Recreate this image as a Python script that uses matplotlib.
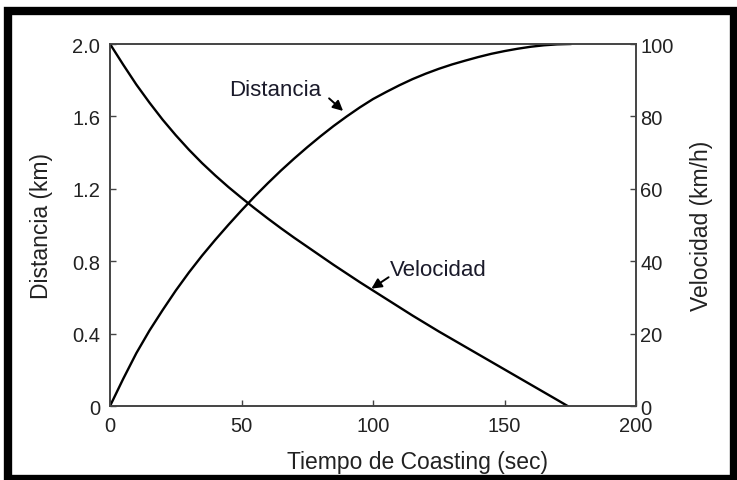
import matplotlib
matplotlib.use('Agg')
import matplotlib.pyplot as plt
from matplotlib.patches import Rectangle

plt.rcParams['font.family'] = ['Liberation Sans', 'DejaVu Sans']

# Datos (cada 5 s)
tiempo_vel = [0, 5, 10, 15, 20, 25, 30, 35, 40, 45, 50, 55, 60, 65, 70, 75, 80, 85, 90,
              95, 100, 105, 110, 115, 120, 125, 130, 135, 140, 145, 150, 155, 160, 165,
              170, 174]
velocidad = [100, 94.3, 88.8, 83.8, 79.1, 74.8, 70.8, 67.1, 63.7, 60.5, 57.5, 54.6, 51.8,
             49.1, 46.5, 44.0, 41.5, 39.0, 36.6, 34.2, 31.9, 29.6, 27.3, 25.0, 22.8, 20.6,
             18.5, 16.4, 14.3, 12.2, 10.1, 8.0, 5.9, 3.8, 1.7, 0]

tiempo_dist = [0, 5, 10, 15, 20, 25, 30, 35, 40, 45, 50, 55, 60, 65, 70, 75, 80, 85, 90,
               95, 100, 105, 110, 115, 120, 125, 130, 135, 140, 145, 150, 155, 160, 165,
               170, 175]
distancia = [0, 0.15, 0.292, 0.417, 0.53, 0.638, 0.738, 0.831, 0.918, 1.001, 1.081, 1.158,
             1.231, 1.301, 1.367, 1.43, 1.49, 1.547, 1.6, 1.65, 1.696, 1.735, 1.772, 1.806,
             1.836, 1.863, 1.887, 1.908, 1.928, 1.946, 1.961, 1.974, 1.985, 1.993, 1.998, 2.0]

x_ticks = [0, 50, 100, 150, 200]
dist_ticks = [0, 0.4, 0.8, 1.2, 1.6, 2.0]
dist_labels = ['0', '0.4', '0.8', '1.2', '1.6', '2.0']
vel_ticks = [0, 20, 40, 60, 80, 100]

fig = plt.figure(figsize=(7.37, 4.81), dpi=100)
ax = fig.add_axes([0.1493, 0.1538, 0.7137, 0.7526])
ax2 = ax.twinx()

ax.plot(tiempo_dist, distancia, color='black', lw=1.7)
ax2.plot(tiempo_vel, velocidad, color='black', lw=1.7)

ax.set_xlim(0, 200)
ax.set_ylim(0, 2.0)
ax2.set_ylim(0, 100)

ax.set_xticks(x_ticks)
ax.set_yticks(dist_ticks)
ax.set_yticklabels(dist_labels)
ax2.set_yticks(vel_ticks)

for a in (ax, ax2):
    for s in a.spines.values():
        s.set_color('#444444')
        s.set_linewidth(1.2)

ax.tick_params(axis='x', direction='in', length=4, width=1, colors='#444444',
               labelcolor='#222222', labelsize=14.5, pad=7, top=False)
ax.tick_params(axis='y', direction='in', length=4, width=1, colors='#444444',
               labelcolor='#222222', labelsize=14.5, pad=7)
ax2.tick_params(axis='y', direction='in', length=4, width=1, colors='#444444',
                labelcolor='#222222', labelsize=14.5, pad=3)

ax.set_xlabel('Tiempo de Coasting (sec)', fontsize=16.5, color='#222222')
ax.xaxis.set_label_coords(0.584, -0.122)
ax.set_ylabel('Distancia (km)', fontsize=16.5, color='#222222', labelpad=14)
ax2.set_ylabel('Velocidad (km/h)', fontsize=16.5, color='#222222', labelpad=12)

# Etiquetas con flechas
ax.text(45.2, 1.746, 'Distancia', fontsize=16, color='#1a1a2a', va='center', ha='left')
ax.annotate('', xy=(89.4, 1.62), xytext=(82.5, 1.71),
            arrowprops=dict(arrowstyle='-|>', color='black', lw=1.4, mutation_scale=15))
ax.text(106.5, 0.757, 'Velocidad', fontsize=16, color='#1a1a2a', va='center', ha='left')
ax.annotate('', xy=(98.5, 0.64), xytext=(106.8, 0.72),
            arrowprops=dict(arrowstyle='-|>', color='black', lw=1.4, mutation_scale=15))

# Marco negro exterior
fig.add_artist(Rectangle((0.0109, 0.002), 0.985, 0.973, transform=fig.transFigure,
                         fill=False, edgecolor='black', lw=6))

fig.savefig('out.png', dpi=100)
